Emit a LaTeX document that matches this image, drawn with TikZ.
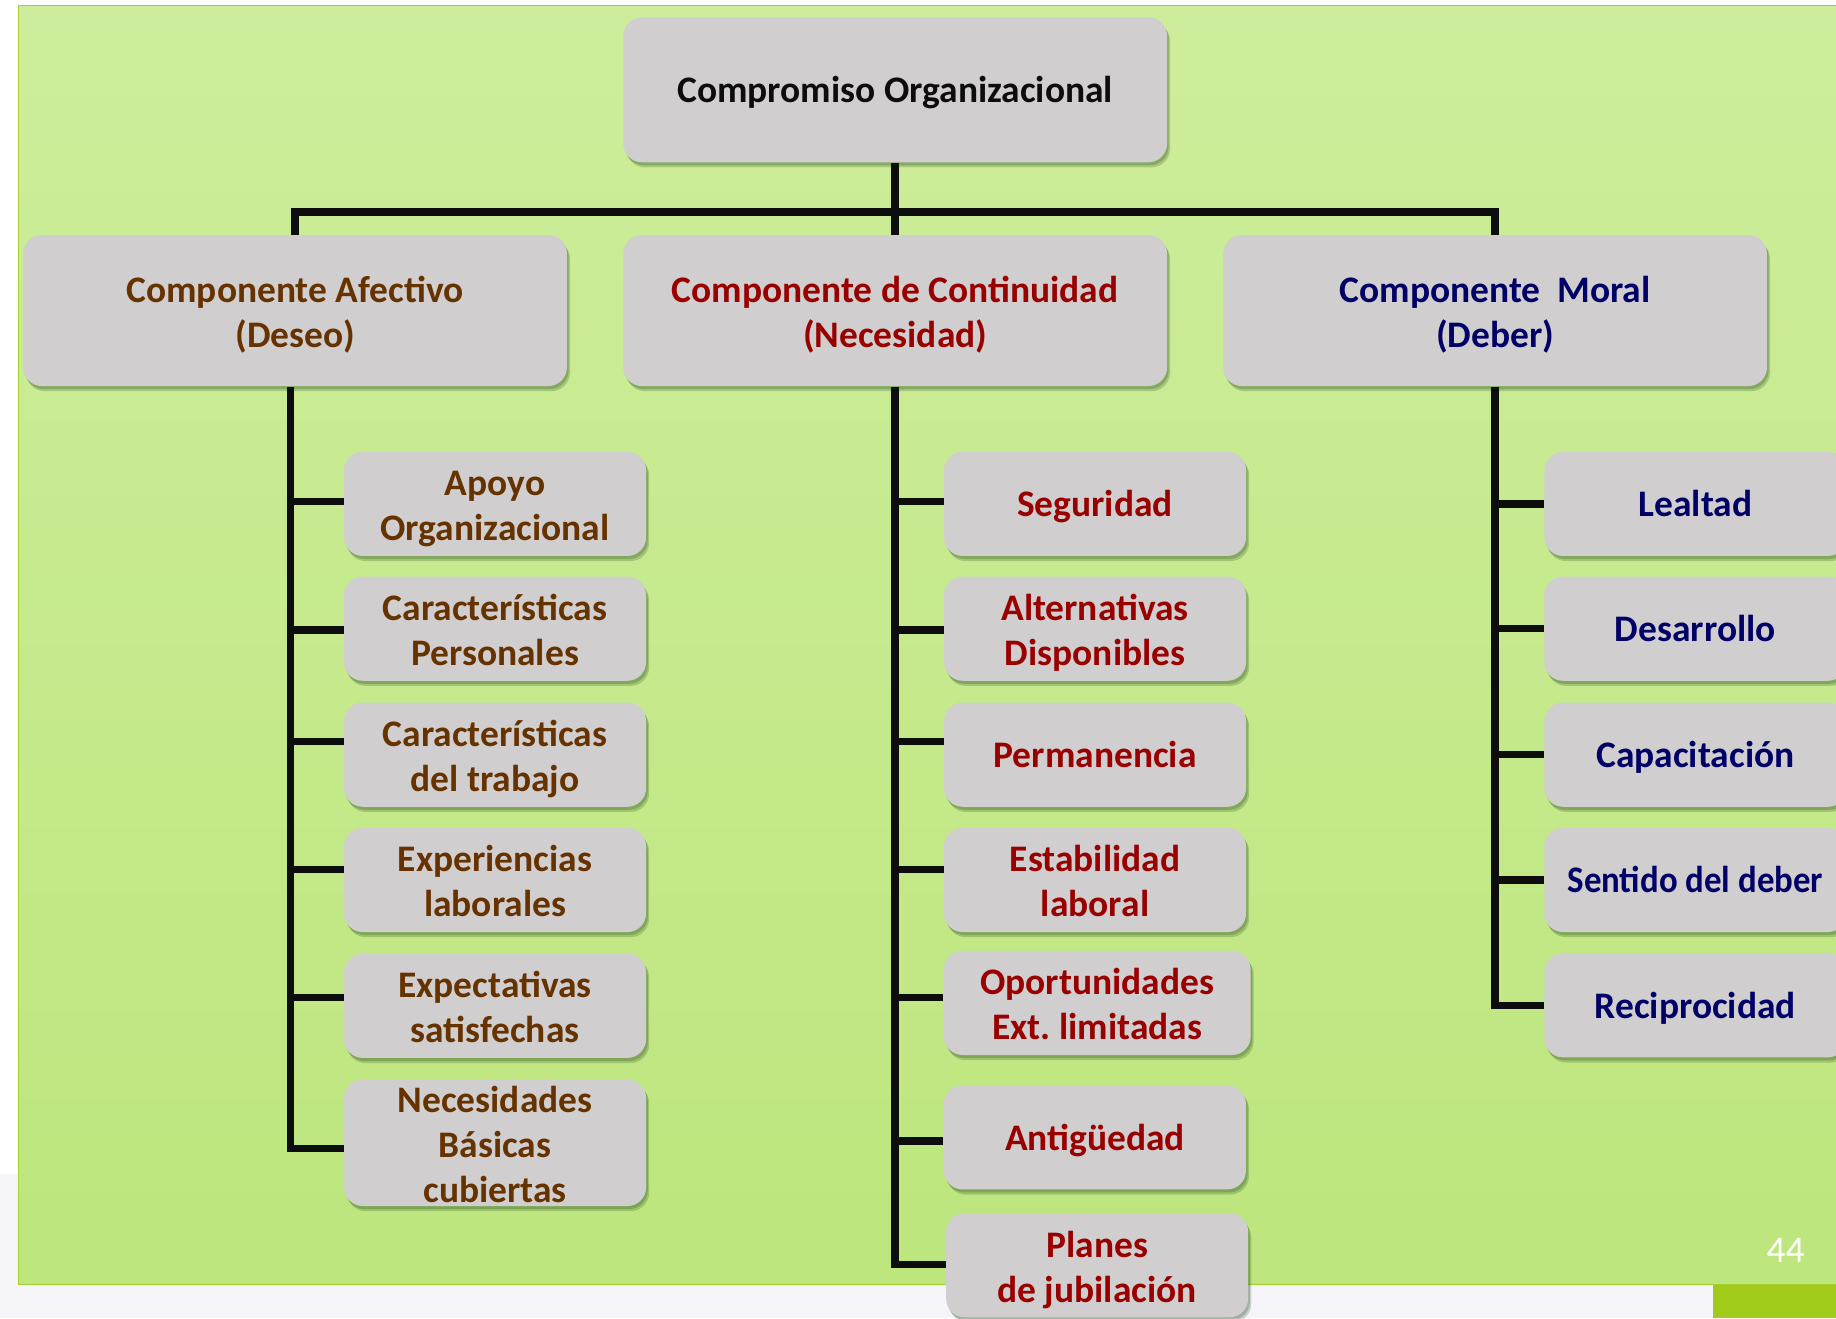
\documentclass[tikz,border=0pt]{standalone}
\usepackage{fontspec}
\usepackage{graphicx}
\setmainfont{Carlito}
\frenchspacing
\usetikzlibrary{shadows}
\definecolor{boxgray}{HTML}{D0CECF}
\definecolor{afcol}{HTML}{663300}
\definecolor{cocol}{HTML}{990000}
\definecolor{mocol}{HTML}{000066}
\definecolor{topcol}{HTML}{0D0D0D}
\definecolor{linecol}{HTML}{0D0D0D}
\definecolor{pagebg}{HTML}{F5F4F9}
\definecolor{paneltop}{HTML}{CEED9C}
\definecolor{panelbot}{HTML}{BDE67D}
\definecolor{panelline}{HTML}{A6D12B}
\definecolor{barcol}{HTML}{A0CB1A}
\newcommand\topstrut{\rule[-3.5pt]{0pt}{18pt}}
\newcommand\fl{\rule[-3.5pt]{0pt}{19.3pt}}
\newcommand\botstrut{\rule[-3.5pt]{0pt}{17pt}}
\pgfdeclarelayer{bg}
\pgfdeclarelayer{lines}
\pgfsetlayers{bg,lines,main}
\begin{document}
\begin{tikzpicture}[x=0.5pt,y=-0.5pt,
  box/.style={rectangle, rounded corners=8pt, fill=boxgray, inner sep=0pt, align=center,
     font=\bfseries\fontsize{16}{19.2}\selectfont,
     execute at begin node=\topstrut, execute at end node=\botstrut,
     drop shadow={shadow xshift=1.3pt, shadow yshift=-2.2pt, opacity=0.16, fill=black},
     drop shadow={shadow xshift=0.7pt, shadow yshift=-1.3pt, opacity=0.22, fill=black!70!green}},
  big/.style={box, minimum width=232.2pt, minimum height=64.5pt},
  small/.style={box, minimum width=129pt, minimum height=44.5pt},
  conn/.style={draw=linecol, line width=3.2pt},
]
\useasboundingbox (0,0) rectangle (1568,1126);
\begin{pgfonlayer}{bg}
  \fill[white] (0,0) rectangle (1568,1126);
  \fill[pagebg] (0,1003) rectangle (1568,1126);
  \shade[top color=paneltop, bottom color=panelbot] (16,4.8) rectangle (1568,1097);
  \draw[panelline, line width=0.6pt] (1568,4.8) -- (16,4.8) -- (16,1097) -- (1568,1097);
  \fill[barcol] (1463,1097) rectangle (1568,1126);
\end{pgfonlayer}

% level 1 and 2
\node[big, minimum height=61.9pt, text=topcol] (top) at (764.5,76.7) {Compromiso Organizacional};
\node[big, text=afcol] (afect) at (252,265.2) {\fl Componente Afectivo\\(Deseo)};
\node[big, text=cocol] (cont) at (764.5,265.2) {\fl Componente de Continuidad\\(Necesidad)};
\node[big, text=mocol] (moral) at (1276.85,265.2) {\fl Componente\ \ Moral\\(Deber)};

% afectivo children
\node[small, text=afcol] (a1) at (422.8,430.3) {\fl Apoyo\\Organizacional};
\node[small, text=afcol] (a2) at (422.8,536.9) {\fl Características\\Personales};
\node[small, text=afcol] (a3) at (422.8,644.5) {\fl Características\\del trabajo};
\node[small, text=afcol] (a4) at (422.8,751.5) {\fl Experiencias\\laborales};
\node[small, text=afcol] (a5) at (422.8,859) {\fl Expectativas\\satisfechas};
\node[small, text=afcol, minimum height=54.1pt, inner ysep=-3pt] (a6) at (422.8,975.9) {\fl Necesidades\\Básicas\\cubiertas};

% continuidad children
\node[small, text=cocol] (c1) at (935.2,430.3) {Seguridad};
\node[small, text=cocol] (c2) at (935.2,536.9) {\fl Alternativas\\Disponibles};
\node[small, text=cocol] (c3) at (935.2,644.5) {Permanencia};
\node[small, text=cocol] (c4) at (935.2,751.5) {\fl Estabilidad\\laboral};
\node[small, text=cocol, minimum width=131pt] (c5) at (937.1,856.5) {\fl Oportunidades\\Ext. limitadas};
\node[small, text=cocol] (c6) at (935.1,971.3) {Antigüedad};
\node[small, text=cocol] (c7) at (937,1080.5) {\fl Planes\\de jubilación};

% moral children
\node[small, text=mocol] (m1) at (1447.9,430.3) {Lealtad};
\node[small, text=mocol] (m2) at (1447.9,536.9) {Desarrollo};
\node[small, text=mocol] (m3) at (1447.9,644.5) {Capacitación};
\node[small, text=mocol] (m4) at (1447.9,751.5) {\scalebox{0.93}[1]{Sentido del deber}};
\node[small, text=mocol] (m5) at (1447.9,858.5) {Reciprocidad};

% page number
\node[text=white, font=\fontsize{16}{19}\selectfont] (pg) at (1525,1067.5) {44};

\begin{pgfonlayer}{lines}
  \coordinate (bus) at (764.5,181);
  \draw[conn] (top.south) -- (cont.north);
  \draw[conn] (afect.north) |- (bus) -| (moral.north);
  \coordinate (at) at ([xshift=-1.85pt]afect.south);
  \coordinate (ct) at (cont.south);
  \coordinate (mt) at (moral.south);
  \foreach \n/\d in {a1/0.9,a2/-0.55,a3/5.55,a4/4.5,a5/3.5}{
    \path ([yshift=\d pt]\n.west) coordinate (e\n);
    \draw[conn] (at |- e\n) -- (e\n);
  }
  \path ([yshift=-2.4pt]a6.west) coordinate (ea6);
  \draw[conn] (at) |- (ea6);
  \foreach \n/\d in {c1/0.9,c2/-0.55,c3/5.55,c4/4.5,c5/2.25,c6/-1.6}{
    \path ([yshift=\d pt]\n.west) coordinate (e\n);
    \draw[conn] (ct |- e\n) -- (e\n);
  }
  \path ([yshift=0.25pt]c7.west) coordinate (ec7);
  \draw[conn] (ct) |- (ec7);
  \foreach \n in {m1,m2,m3,m4}{
    \draw[conn] (mt |- \n.west) -- (\n.west);
  }
  \draw[conn] (mt) |- (m5.west);
\end{pgfonlayer}
\end{tikzpicture}
\end{document}
